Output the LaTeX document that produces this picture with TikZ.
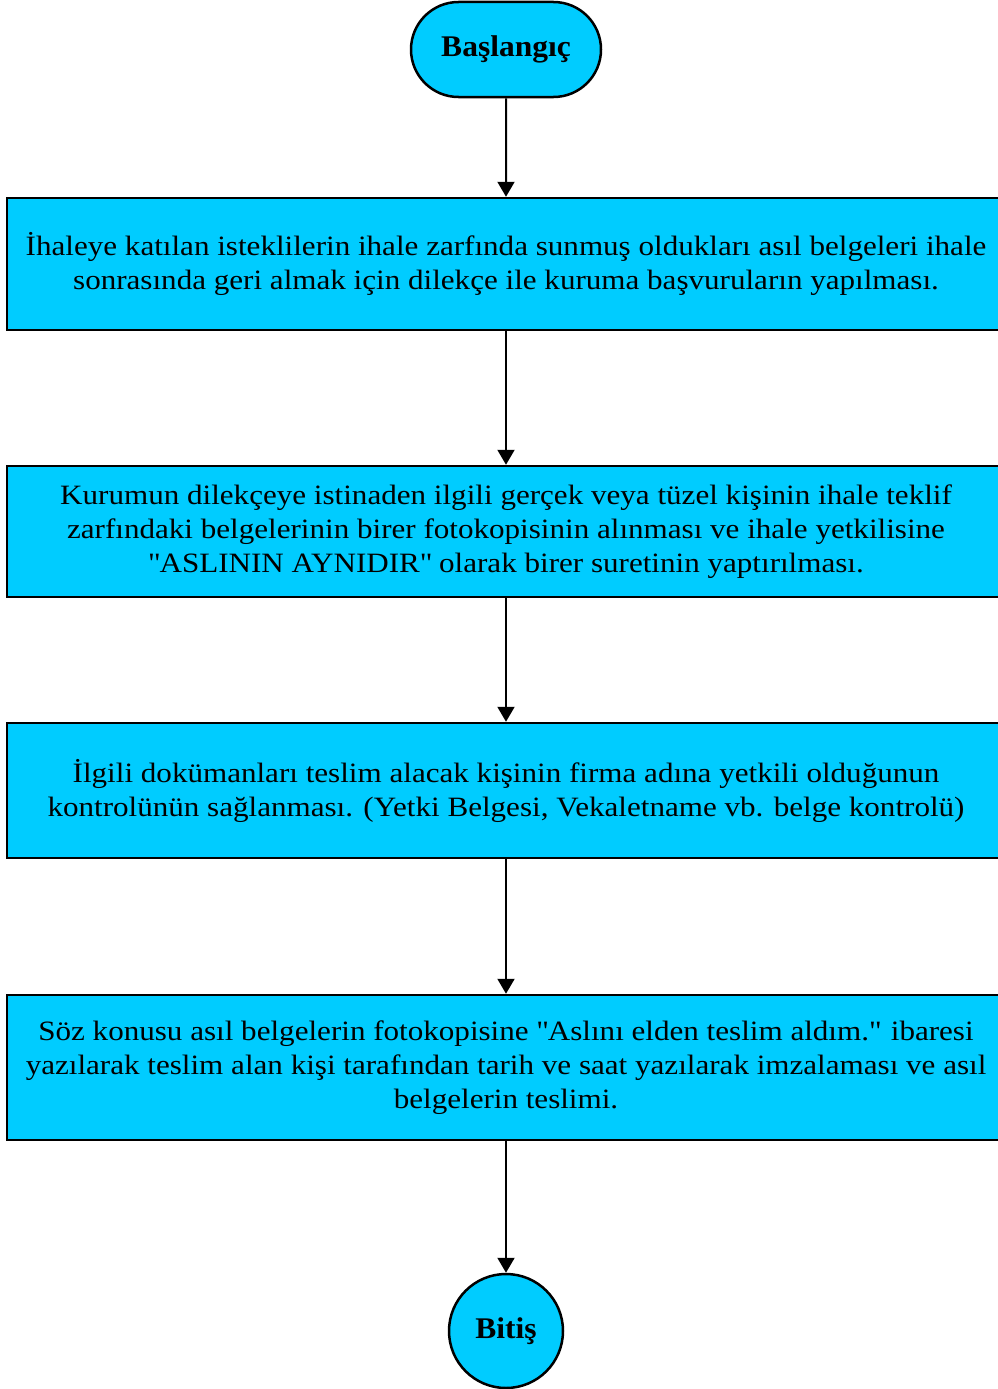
\documentclass[tikz,border=0pt]{standalone}
\usepackage{fontspec}
\setmainfont{Liberation Serif}[FakeStretch=1.11]
\newfontfamily\termfont{Liberation Serif}[FakeStretch=1.05]
\usetikzlibrary{arrows.meta,shapes.misc}
\newcommand\sq{{\XeTeXglyph\the\XeTeXcharglyph"22\relax}}
\definecolor{boxcyan}{RGB}{0,204,255}
\tikzset{
  procbox/.style={draw=black, line width=2.5pt, fill=boxcyan, minimum width=998pt, align=center, inner sep=0pt,
    font=\fontsize{28}{34}\selectfont},
  flowarrow/.style={draw=black, line width=2pt, -{Triangle[width=17pt,length=15pt]}},
  termtext/.style={font=\termfont\fontsize{30}{34}\selectfont\bfseries}
}
\begin{document}
\begin{tikzpicture}[x=1pt,y=-1pt]
\useasboundingbox (0,0) rectangle (998,1389);
\node[draw=black, line width=2.5pt, fill=boxcyan, rounded rectangle, minimum width=190pt, minimum height=95pt, inner sep=0pt, termtext] (start) at (506,49.5) {Başlangıç};
\node[procbox, minimum height=132pt] (b1) at (506,264) {İhaleye katılan isteklilerin ihale zarfında sunmuş oldukları asıl belgeleri ihale\\sonrasında geri almak için dilekçe ile kuruma başvuruların yapılması.};
\node[procbox, minimum height=131pt] (b2) at (506,531.5) {Kurumun dilekçeye istinaden ilgili gerçek veya tüzel kişinin ihale teklif\\zarfındaki belgelerinin birer fotokopisinin alınması ve ihale yetkilisine\\\sq ASLININ AYNIDIR\sq{} olarak birer suretinin yaptırılması.};
\node[procbox, minimum height=135pt] (b3) at (506,790.5) {İlgili dokümanları teslim alacak kişinin firma adına yetkili olduğunun\\kontrolünün sağlanması. (Yetki Belgesi, Vekaletname vb. belge kontrolü)};
\node[procbox, minimum height=145pt] (b4) at (506,1067.5) {Söz konusu asıl belgelerin fotokopisine \sq Aslını elden teslim aldım.\sq{} ibaresi\\yazılarak teslim alan kişi tarafından tarih ve saat yazılarak imzalaması ve asıl\\belgelerin teslimi.};
\node[draw=black, line width=2.5pt, fill=boxcyan, circle, minimum size=114pt, inner sep=0pt, termtext] (end) at (506,1331) {Bitiş};
\draw[flowarrow] (start) -- (b1);
\draw[flowarrow] (b1) -- (b2);
\draw[flowarrow] (b2) -- (b3);
\draw[flowarrow] (b3) -- (b4);
\draw[flowarrow] (b4) -- (end);
\end{tikzpicture}
\end{document}
